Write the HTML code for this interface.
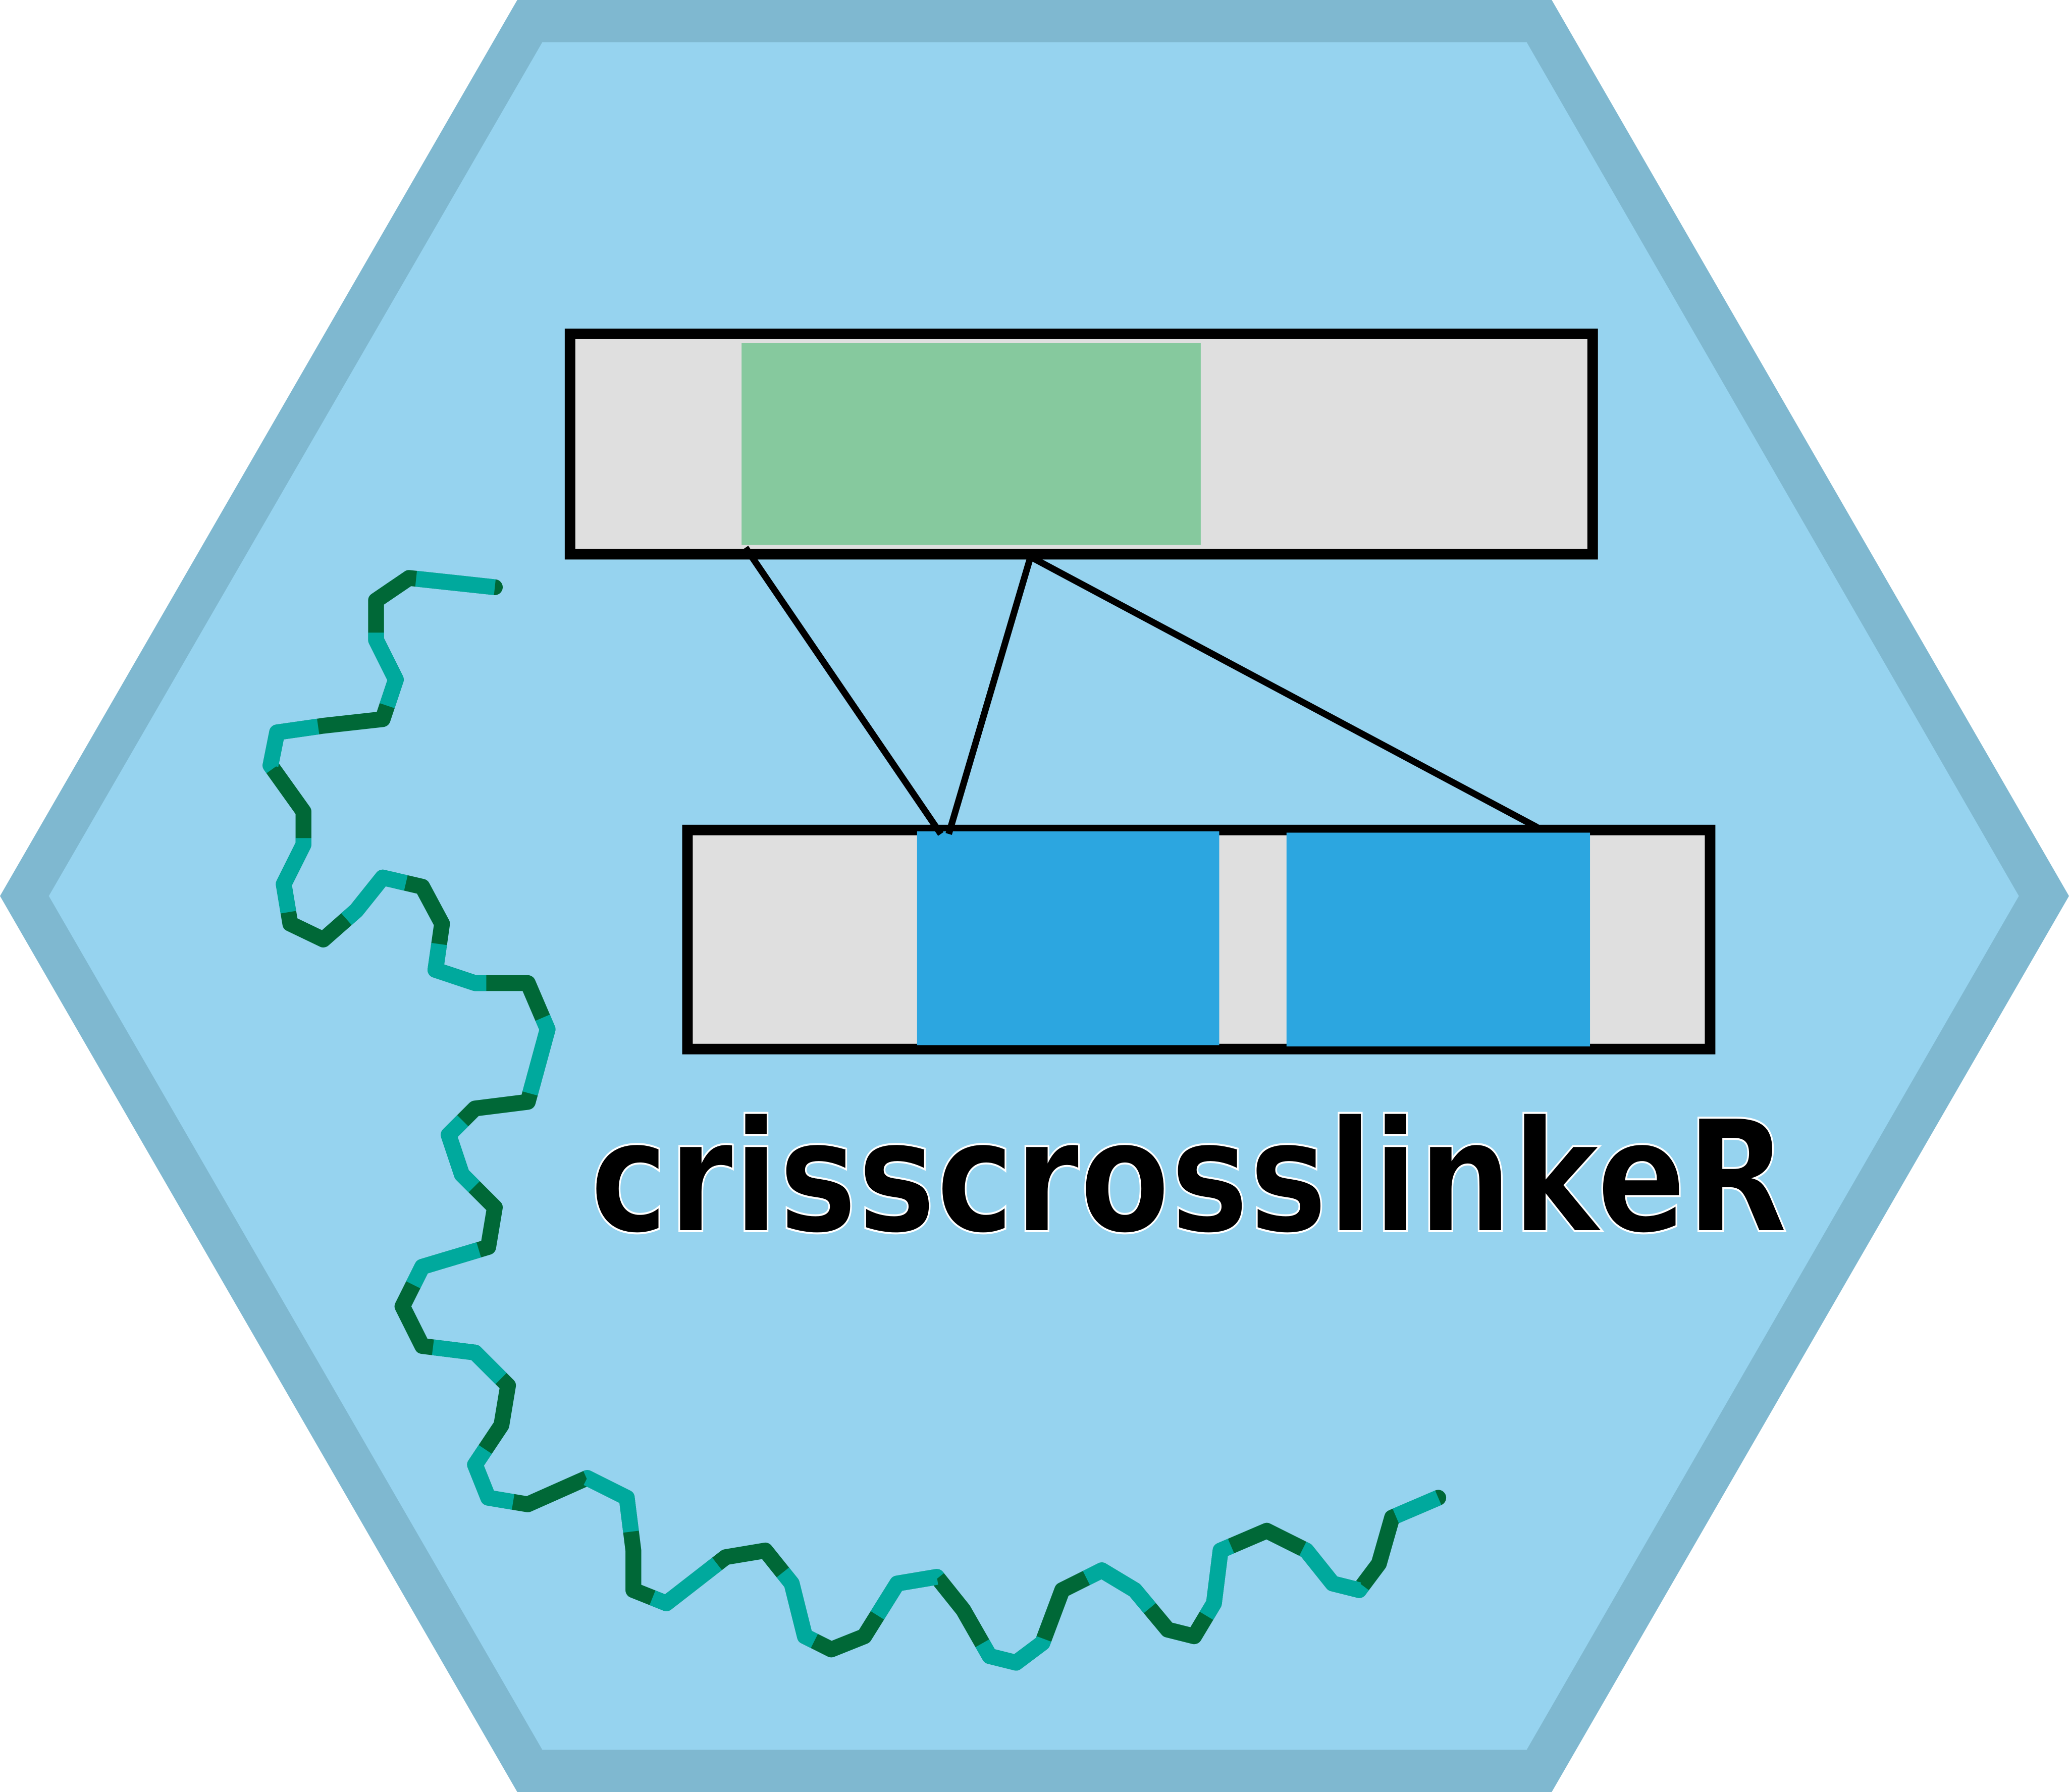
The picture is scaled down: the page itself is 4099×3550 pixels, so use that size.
<!DOCTYPE html>
<html><head><meta charset="utf-8"><style>html,body{margin:0;padding:0;background:#fff}svg{display:block}</style></head>
<body>
<svg width="4099" height="3550" viewBox="0 0 1568 1358" xmlns="http://www.w3.org/2000/svg">
<polygon points="392,0 1176,0 1568,679 1176,1358 392,1358 0,679" fill="#7fb8d0"/>
<polygon points="411,32 1157,32 1530,679 1157,1326 411,1326 37,679" fill="#96d3ef"/>
<rect x="432" y="253" width="775" height="167" fill="#dfdfdf" stroke="#000" stroke-width="8"/>
<rect x="562" y="260" width="348" height="153" fill="#86c99e"/>
<rect x="521" y="629" width="775" height="166" fill="#dfdfdf" stroke="#000" stroke-width="8"/>
<rect x="695" y="630" width="229" height="162" fill="#2ca6e0"/>
<rect x="975" y="631" width="230" height="162" fill="#2ca6e0"/>
<g stroke="#000" stroke-width="5" fill="none">
<line x1="565" y1="415" x2="713" y2="632"/>
<line x1="781" y1="422" x2="719" y2="632"/>
<line x1="781" y1="422" x2="1165" y2="627"/>
</g>
<g fill="none" stroke-linejoin="round" stroke-linecap="round" stroke-width="12">
<polyline stroke="#006837" points="375,445 310,438 285,455 285,485 300,515 290,545 245,550 210,555 205,580 230,615 230,640 215,670 220,700 245,712 270,690 290,665 320,672 335,700 330,735 360,745 400,745 415,780 400,835 360,840 340,860 350,890 375,915 370,945 320,960 305,990 320,1020 360,1025 385,1050 380,1080 360,1110 370,1135 400,1140 445,1120 475,1135 480,1175 480,1205 505,1215 550,1180 580,1175 600,1200 610,1240 630,1250 655,1240 680,1200 710,1195 730,1220 750,1255 770,1260 790,1245 805,1205 835,1190 860,1205 885,1235 905,1240 920,1215 925,1175 960,1160 990,1175 1010,1200 1030,1205 1045,1185 1055,1150 1090,1135"/>
<polyline stroke="#00a99d" stroke-dasharray="60 60" stroke-linecap="butt" points="375,445 310,438 285,455 285,485 300,515 290,545 245,550 210,555 205,580 230,615 230,640 215,670 220,700 245,712 270,690 290,665 320,672 335,700 330,735 360,745 400,745 415,780 400,835 360,840 340,860 350,890 375,915 370,945 320,960 305,990 320,1020 360,1025 385,1050 380,1080 360,1110 370,1135 400,1140 445,1120 475,1135 480,1175 480,1205 505,1215 550,1180 580,1175 600,1200 610,1240 630,1250 655,1240 680,1200 710,1195 730,1220 750,1255 770,1260 790,1245 805,1205 835,1190 860,1205 885,1235 905,1240 920,1215 925,1175 960,1160 990,1175 1010,1200 1030,1205 1045,1185 1055,1150 1090,1135"/>
</g>
<text x="447" y="933" font-family="DejaVu Sans, Liberation Sans, sans-serif" font-weight="bold" font-size="118" textLength="908" lengthAdjust="spacingAndGlyphs" fill="#000" stroke="#fff" stroke-width="1.5">crisscrosslinkeR</text>
</svg>
</body></html>
